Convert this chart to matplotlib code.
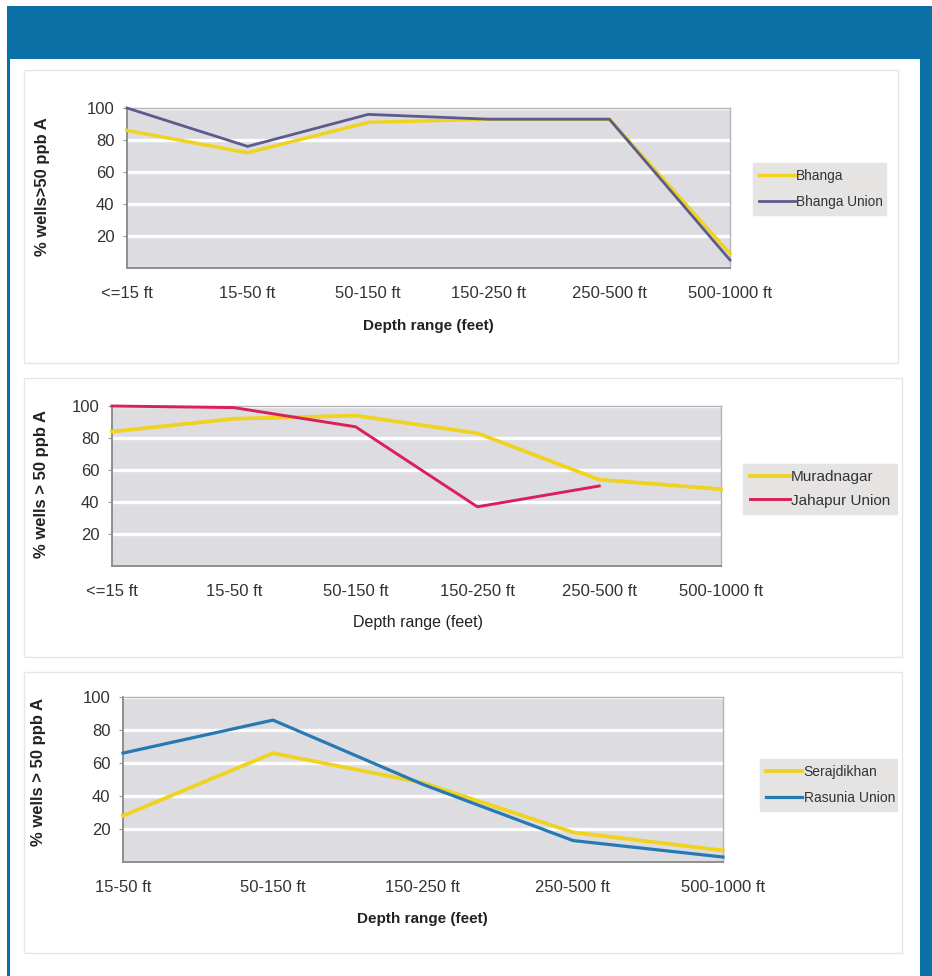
import matplotlib
matplotlib.use("Agg")
import matplotlib.pyplot as plt
from matplotlib.patches import Rectangle
import numpy as np

plt.rcParams['font.family'] = ['Liberation Sans', 'DejaVu Sans']

# ---- data -------------------------------------------------------------
depth_all = ["<=15 ft", "15-50 ft", "50-150 ft", "150-250 ft", "250-500 ft", "500-1000 ft"]
depth_deep = ["15-50 ft", "50-150 ft", "150-250 ft", "250-500 ft", "500-1000 ft"]

bhanga = [86, 72, 91, 93, 93, 9]
bhanga_union = [100, 76, 96, 93, 93, 5]

muradnagar = [84, 92, 94, 83, 54, 48]
jahapur_union = [100, 99, 87, 37, 50]

serajdikhan = [28, 66, 48, 18, 7]
rasunia_union = [66, 86, 47, 13, 3]

y_ticks = [20, 40, 60, 80, 100]

# ---- figure -----------------------------------------------------------
W, H = 932, 976
fig = plt.figure(figsize=(W / 100, H / 100), dpi=100)
fig.patch.set_facecolor("white")

FRAME = "#0b70a6"
YELLOW = "#f0d31e"
PURPLE = "#5d5a8c"
RED = "#da1f5b"
BLUE = "#2679b2"
TEXT = "#333333"


def fx(px):
    return px / W


def fy(py):
    return 1 - py / H


def rect(l, t, r, b):
    return [fx(l), fy(b), fx(r) - fx(l), fy(t) - fy(b)]


# blue frame: header band plus left/right borders
fig.patches.append(Rectangle((fx(7), 0), fx(932) - fx(7), fy(6), transform=fig.transFigure,
                             facecolor=FRAME, edgecolor="none", zorder=-3))
fig.patches.append(Rectangle((fx(9.5), 0), fx(920) - fx(9.5), fy(59), transform=fig.transFigure,
                             facecolor="white", edgecolor="none", zorder=-2))

# faint panel outlines
for (l, t, r, b) in [(24, 70, 898, 363), (24, 378, 902, 657), (24, 672, 902, 953)]:
    fig.patches.append(Rectangle((fx(l), fy(b)), fx(r) - fx(l), fy(t) - fy(b),
                                 transform=fig.transFigure, facecolor="white",
                                 edgecolor="#e6e6e6", lw=1.0, zorder=-1))


def style_axes(ax, cats, ylab, ylab_xy, xlab_xy, xlab_bold, xlab_fs):
    ax.set_facecolor("#dcdce1")
    ax.set_xlim(0, len(cats) - 1)
    ax.set_ylim(0, 100)
    ax.set_xticks(range(len(cats)))
    ax.set_xticklabels(cats)
    ax.set_yticks(y_ticks)
    ax.set_yticklabels([str(v) for v in y_ticks])
    ax.grid(axis="y", color="white", lw=2.4, zorder=1)
    ax.set_axisbelow(True)
    ax.tick_params(axis="x", length=0, pad=13, labelsize=12, colors=TEXT)
    ax.tick_params(axis="y", length=3, width=0.8, color="#999999", pad=6,
                   labelsize=12, labelcolor=TEXT)
    for s in ("left", "bottom"):
        ax.spines[s].set_color("#8e8e8e")
        ax.spines[s].set_linewidth(1.4)
    for s in ("top", "right"):
        ax.spines[s].set_color("#b4b4b8")
        ax.spines[s].set_linewidth(1.0)
    ax.set_ylabel(ylab, fontsize=12, fontweight="bold", color="#222222")
    ax.yaxis.set_label_coords(fx(ylab_xy[0]), fy(ylab_xy[1]), transform=fig.transFigure)
    ax.yaxis.label.set_va("center")
    ax.set_xlabel("Depth range (feet)", fontsize=xlab_fs,
                  fontweight="bold" if xlab_bold else "normal", color="#222222")
    ax.xaxis.set_label_coords(fx(xlab_xy[0]), fy(xlab_xy[1]), transform=fig.transFigure)
    ax.xaxis.label.set_va("center")


def add_legend(ax, box, fs, spacing):
    l, t, r, b = box
    leg = ax.legend(loc="center", bbox_to_anchor=(fx(l), fy(b), fx(r) - fx(l), fy(t) - fy(b)),
                    bbox_transform=fig.transFigure, mode="expand", frameon=True,
                    fancybox=False, facecolor="#e6e3e3", edgecolor="#e6e3e3",
                    framealpha=1.0, fontsize=fs, handlelength=2.6, handletextpad=0.1,
                    labelspacing=spacing, borderpad=0.45, borderaxespad=0)
    for txt in leg.get_texts():
        txt.set_color(TEXT)
    return leg


# ---- panel 1: Bhanga ---------------------------------------------------
ax1 = fig.add_axes(rect(127, 108, 730, 268))
x6 = np.arange(len(depth_all))
ax1.plot(x6, bhanga, color=YELLOW, lw=2.5, label="Bhanga", zorder=3, clip_on=False)
ax1.plot(x6, bhanga_union, color=PURPLE, lw=2.0, label="Bhanga Union", zorder=4, clip_on=False)
style_axes(ax1, depth_all, "% wells>50 ppb A", (43, 187), (428, 326), True, 11)
add_legend(ax1, (753, 162, 886, 216), 9.8, 0.9)

# ---- panel 2: Muradnagar ----------------------------------------------
ax2 = fig.add_axes(rect(112, 406, 721, 566))
ax2.plot(x6, muradnagar, color=YELLOW, lw=2.7, label="Muradnagar", zorder=3, clip_on=False)
ax2.plot(np.arange(len(jahapur_union)), jahapur_union, color=RED, lw=2.1,
         label="Jahapur Union", zorder=4, clip_on=False)
style_axes(ax2, depth_all, "% wells > 50 ppb A", (42, 484), (418, 623), False, 11.5)
add_legend(ax2, (743, 461, 897, 517), 11, 0.6)

# ---- panel 3: Serajdikhan ---------------------------------------------
ax3 = fig.add_axes(rect(123, 697, 723, 862))
x5 = np.arange(len(depth_deep))
ax3.plot(x5, serajdikhan, color=YELLOW, lw=2.7, label="Serajdikhan", zorder=3, clip_on=False)
ax3.plot(x5, rasunia_union, color=BLUE, lw=2.3, label="Rasunia Union", zorder=4, clip_on=False)
style_axes(ax3, depth_deep, "% wells > 50 ppb A", (39, 772), (422, 919), True, 11)
add_legend(ax3, (760, 758, 897, 812), 10, 0.85)

fig.savefig("out.png", dpi=100, facecolor="white")
